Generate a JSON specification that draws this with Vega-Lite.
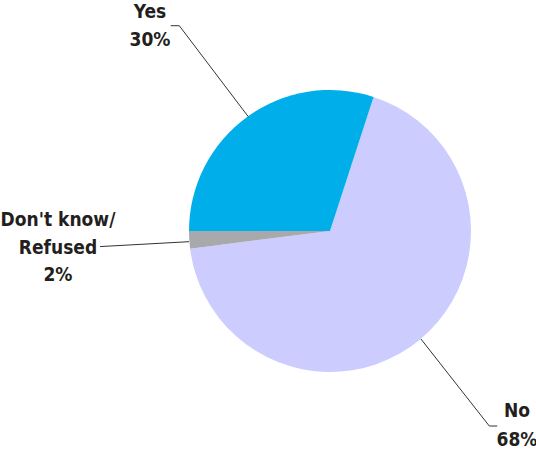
{
  "$schema": "https://vega.github.io/schema/vega-lite/v6.json",
  "width": 536,
  "height": 451,
  "padding": 0,
  "autosize": "none",
  "background": "white",
  "config": {"view": {"stroke": null}},
  "datasets": {
    "slices": [
      {"answer": "No", "pct": 68, "order": 1},
      {"answer": "Don't know/Refused", "pct": 2, "order": 2},
      {"answer": "Yes", "pct": 30, "order": 3}
    ],
    "leaders": [
      {"answer": "Yes", "step": 1, "x": -1.1298, "y": 1.456},
      {"answer": "Yes", "step": 2, "x": -1.0688, "y": 1.456},
      {"answer": "Yes", "step": 3, "x": -0.5794, "y": 0.8106},
      {"answer": "Don't know/Refused", "step": 1, "x": -1.6312, "y": -0.1106},
      {"answer": "Don't know/Refused", "step": 2, "x": -1.0, "y": -0.0759},
      {"answer": "No", "step": 1, "x": 0.645, "y": -0.766},
      {"answer": "No", "step": 2, "x": 1.1298, "y": -1.383},
      {"answer": "No", "step": 3, "x": 1.1865, "y": -1.383}
    ],
    "labels": [
      {"text": "Yes", "x": -1.2766, "y": 1.5532},
      {"text": "30%", "x": -1.2766, "y": 1.3546},
      {"text": "Don't know/", "x": -1.9291, "y": 0.078},
      {"text": "Refused", "x": -1.9291, "y": -0.1206},
      {"text": "2%", "x": -1.9291, "y": -0.3121},
      {"text": "No", "x": 1.3262, "y": -1.2766},
      {"text": "68%", "x": 1.3262, "y": -1.4823}
    ]
  },
  "layer": [
    {
      "data": {"name": "slices"},
      "mark": {"type": "arc", "outerRadius": 141, "stroke": null},
      "encoding": {
        "x": {"datum": 0, "type": "quantitative", "scale": {"domain": [-2.3404, 1.461], "nice": false, "zero": false}, "axis": null},
        "y": {"datum": 0, "type": "quantitative", "scale": {"domain": [-1.5603, 1.6383], "nice": false, "zero": false}, "axis": null},
        "theta": {"field": "pct", "type": "quantitative", "stack": true, "scale": {"range": [0.31416, 6.59734]}},
        "order": {"field": "order", "type": "quantitative"},
        "color": {
          "field": "answer",
          "type": "nominal",
          "scale": {"domain": ["No", "Don't know/Refused", "Yes"], "range": ["#CCCCFF", "#A7A9AC", "#00AEEA"]},
          "legend": null
        }
      }
    },
    {
      "data": {"name": "leaders"},
      "mark": {"type": "line", "color": "#333333", "strokeWidth": 1},
      "encoding": {
        "x": {"field": "x", "type": "quantitative", "scale": {"domain": [-2.3404, 1.461], "nice": false, "zero": false}, "axis": null},
        "y": {"field": "y", "type": "quantitative", "scale": {"domain": [-1.5603, 1.6383], "nice": false, "zero": false}, "axis": null},
        "detail": {"field": "answer"},
        "order": {"field": "step", "type": "quantitative"}
      }
    },
    {
      "data": {"name": "labels"},
      "mark": {"type": "text", "font": "DejaVu Sans Condensed, sans-serif", "fontSize": 19, "fontWeight": "bold", "color": "#231F20", "align": "center", "baseline": "middle"},
      "encoding": {
        "x": {"field": "x", "type": "quantitative", "scale": {"domain": [-2.3404, 1.461], "nice": false, "zero": false}, "axis": null},
        "y": {"field": "y", "type": "quantitative", "scale": {"domain": [-1.5603, 1.6383], "nice": false, "zero": false}, "axis": null},
        "text": {"field": "text"}
      }
    }
  ]
}
